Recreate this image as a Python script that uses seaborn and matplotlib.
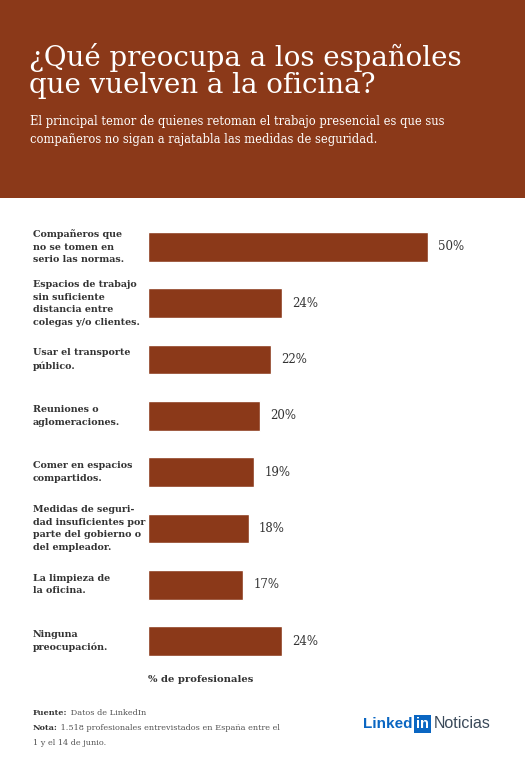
import matplotlib
matplotlib.use("Agg")
import matplotlib.pyplot as plt
import seaborn as sns
import pandas as pd
from matplotlib.patches import Rectangle

categories = [
    "Compañeros que\nno se tomen en\nserio las normas.",
    "Espacios de trabajo\nsin suficiente\ndistancia entre\ncolegas y/o clientes.",
    "Usar el transporte\npúblico.",
    "Reuniones o\naglomeraciones.",
    "Comer en espacios\ncompartidos.",
    "Medidas de seguri-\ndad insuficientes por\nparte del gobierno o\ndel empleador.",
    "La limpieza de\nla oficina.",
    "Ninguna\npreocupación.",
]
values = [50, 24, 22, 20, 19, 18, 17, 24]
value_labels = ["50%", "24%", "22%", "20%", "19%", "18%", "17%", "24%"]

title = "¿Qué preocupa a los españoles\nque vuelven a la oficina?"
subtitle = ("El principal temor de quienes retoman el trabajo presencial es que sus\n"
            "compañeros no sigan a rajatabla las medidas de seguridad.")
xlabel = "% de profesionales"

RUST = "#8B3919"
DARK = "#333333"
W, H = 525, 773

sns.set_theme(style="white")
plt.rcParams["font.family"] = ["DejaVu Serif"]

fig = plt.figure(figsize=(W / 100, H / 100), dpi=100)
fig.patch.set_facecolor("white")

def fx(px):
    return px / W

def fy(py):
    return 1 - py / H

# header band
fig.patches.append(Rectangle((0, fy(198)), 1, 1 - fy(198), transform=fig.transFigure,
                             facecolor=RUST, edgecolor="none", zorder=0))
fig.text(fx(29), fy(43), title, color="white", fontsize=19.9, va="top", ha="left",
         linespacing=0.98)
fig.text(fx(30), fy(115), subtitle, color="white", fontsize=8.3, va="top", ha="left",
         linespacing=1.45)

df = pd.DataFrame({"cat": categories, "val": values})
ax = fig.add_axes([fx(148), fy(669.15), fx(336), (669.15 - 218.85) / H])
sns.barplot(data=df, x="val", y="cat", orient="h", color=RUST, width=0.53,
            saturation=1, ax=ax)
ax.set_xlim(0, 60)
ax.set_ylim(7.5, -0.5)
ax.set_xlabel("")
ax.set_ylabel("")
ax.set_xticks([])
ax.set_yticks([])
for s in ax.spines.values():
    s.set_visible(False)
ax.set_facecolor("none")

for i, (v, lab) in enumerate(zip(values, value_labels)):
    ax.text(v + 1.8, i, lab, va="center", ha="left", fontsize=8.5, color=DARK)

for i, cat in enumerate(categories):
    ax.annotate(cat, xy=(0, i), xycoords=("axes fraction", "data"),
                xytext=(fx(33), 0), textcoords=("figure fraction", "offset points"),
                va="center", ha="left", fontsize=6.8, color=DARK, fontweight="bold",
                linespacing=1.5)

fig.text(fx(148), fy(679), xlabel, fontsize=7.2, color=DARK, va="center", ha="left",
         fontweight="bold")

FS = 5.9
t1 = fig.text(fx(33), fy(715), "Fuente:", fontsize=FS, color=DARK, va="baseline",
              ha="left", fontweight="bold")
plt.annotate(" Datos de LinkedIn", xy=(1, 0), xycoords=t1, fontsize=FS,
             color="#555555", va="bottom", ha="left", annotation_clip=False)
t2 = fig.text(fx(33), fy(730), "Nota:", fontsize=FS, color=DARK, va="baseline",
              ha="left", fontweight="bold")
plt.annotate(" 1.518 profesionales entrevistados en España entre el", xy=(1, 0),
             xycoords=t2, fontsize=FS, color="#555555", va="bottom", ha="left",
             annotation_clip=False)
fig.text(fx(33), fy(745), "1 y el 14 de junio.", fontsize=FS, color="#555555",
         va="baseline", ha="left")

# LinkedIn Noticias logo text
l1 = fig.text(fx(363), fy(728), "Linked", fontsize=11, color="#0A66C2",
              fontweight="bold", va="baseline", ha="left", family="Liberation Sans")
l2 = plt.annotate("in", xy=(1, 0), xycoords=l1, xytext=(2.5, 0),
                  textcoords="offset points", fontsize=10.5, color="white",
                  fontweight="bold", va="bottom", ha="left", family="Liberation Sans",
                  annotation_clip=False,
                  bbox=dict(boxstyle="square,pad=0.12", facecolor="#0A66C2",
                            edgecolor="none"))
plt.annotate("Noticias", xy=(1, 0), xycoords=l2, xytext=(3.5, 0),
             textcoords="offset points", fontsize=11.5, color="#3B4A5A",
             va="bottom", ha="left", family="Liberation Sans", annotation_clip=False)

fig.savefig("out.png", dpi=100)
